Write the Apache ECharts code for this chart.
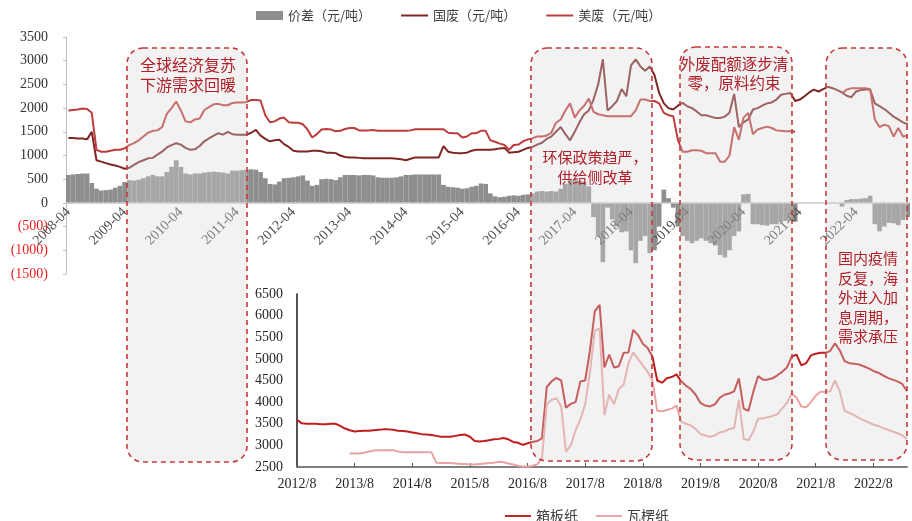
<!DOCTYPE html>
<html>
<head>
<meta charset="utf-8">
<script src="https://cdn.jsdelivr.net/npm/echarts@6/dist/echarts.min.js"></script>
<style>
  html, body { margin: 0; padding: 0; background: #fff; }
  #chart { width: 912px; height: 521px; }
</style>
</head>
<body>
<div id="chart"></div>
<script>
// ---- Upper panel: monthly, 2008-04 .. 2023-03 ----
const wasteStart = [2008, 4];
const wasteMonths = 180;

// 价差（元/吨）
const spread = [
  590, 600, 610, 620, 620, 420, 300, 260, 270, 280, 320, 360,
  440, 480, 470, 490, 520, 560, 590, 560, 560, 650, 760, 900,
  760, 620, 600, 620, 620, 640, 650, 660, 650, 640, 620, 680,
  680, 690, 700, 710, 700, 650, 520, 400, 390, 450, 520, 530,
  540, 560, 580, 470, 360, 380, 500, 510, 500, 480, 540, 590,
  590, 590, 580, 590, 590, 580, 540, 530, 530, 530, 540, 560,
  590, 590, 600, 600, 600, 600, 600, 600, 380, 340, 330, 320,
  300, 310, 340, 360, 410, 400, 200, 140, 120, 130, 150, 160,
  150, 170, 180, 200, 240, 250, 240, 250, 240, 300, 400, 480,
  480, 470, 450, 350, -300, -700, -1250, -100, -350, -500, -620, -600,
  -1000, -1270, -800, -700, -1060, -1000, -500, 280, 100, -100, -500, -700,
  -800, -850, -800, -750, -800, -850, -900, -1100, -1150, -1000, -700, -600,
  180, 190, -450, -450, -470, -480, -450, -450, -400, -380, -380, -400,
  null, null, null, null, null, null, null, null, null, -80, 60, 80,
  80, 90, 100, 150, -450, -600, -500, -420, -430, -470, -360, -300
];

// 国废（元/吨）
const domesticWaste = [
  1370, 1370, 1360, 1360, 1340, 1500, 900, 870, 840, 810, 790, 760,
  720, 740, 800, 860, 900, 940, 950, 1020, 1080, 1170, 1220, 1260,
  1230, 1160, 1120, 1130, 1200, 1300, 1360, 1420, 1470, 1440, 1500, 1450,
  1440, 1440, 1440, 1480, 1540, 1420, 1350, 1300, 1320, 1330, 1240, 1180,
  1100, 1083, 1083, 1083, 1100, 1100, 1090, 1060, 1060, 1050, 1000, 970,
  960, 960, 950, 940, 940, 940, 940, 940, 940, 940, 930, 920,
  900, 930, 960, 960, 960, 960, 960, 960, 1200, 1080, 1060, 1050,
  1050, 1060, 1100, 1120, 1120, 1120, 1120, 1130, 1150, 1160, 1060, 1070,
  1080, 1120, 1160, 1180, 1230, 1270, 1350, 1400, 1500, 1600, 1450, 1320,
  1500, 1700, 1870, 1950, 2180, 2500, 3030, 1950, 2040, 2150, 2400, 2250,
  2900, 3030, 2880, 2790, 2880, 2700, 2320, 2100, 2000, 1970, 2050, 2110,
  2040, 2000, 1930, 1850, 1850, 1820, 1790, 1790, 1820, 1900, 2300, 1600,
  1700, 1760, 1970, 2000, 2050, 2100, 2120, 2180, 2280, 2300, 2320, 2150,
  2180, 2250, 2330, 2390, 2350, 2400, 2450, 2420, 2380, 2330, 2260, 2230,
  2350, 2380, 2390, 2390, 2100, 2040, 1980, 1900, 1820, 1760, 1700, 1660
];

// 美废（元/吨）
const usWaste = [
  1950, 1960, 1970, 1990, 1980, 1900, 1120, 1080, 1080, 1100, 1120, 1120,
  1150, 1220, 1260, 1320, 1400, 1480, 1520, 1530, 1600, 1880, 2000, 2140,
  1950, 1720, 1700, 1760, 1780, 1960, 2020, 2080, 2090, 2060, 2060, 2110,
  2120, 2120, 2130, 2170, 2170, 2160, 1850, 1700, 1720, 1780, 1800, 1700,
  1690, 1690, 1660, 1550, 1380, 1450, 1550, 1560, 1550, 1510, 1520, 1560,
  1580, 1580, 1530, 1530, 1530, 1540, 1520, 1520, 1520, 1520, 1520, 1520,
  1520, 1530, 1555, 1555, 1555, 1555, 1555, 1555, 1555, 1480, 1470, 1470,
  1380, 1400, 1470, 1470, 1520, 1520, 1320, 1290, 1250, 1220, 1120, 1220,
  1230, 1300, 1340, 1360, 1400, 1400, 1420, 1480, 1690, 1760, 1950, 2100,
  1800, 1950, 2050, 2200, 1920, 1870, 1850, 1830, 1830, 1830, 1830, 1830,
  1830, 1950, 2180, 2180, 2150, 2150, 2100, 1900, 1850, 1830, 1330, 1080,
  1080, 1110, 1110, 1100, 1050, 1050, 1050, 870, 870, 1000, 1600, 1330,
  1800, 1900, 1450, 1550, 1580, 1610, 1580, 1530, 1520, 1510, 1510, 1500,
  null, null, null, null, null, null, null, null, null, 2300, 2390, 2420,
  2420, 2420, 2420, 2400, 1760, 1600, 1650, 1620, 1400, 1580, 1400, 1420
];

// ---- Lower panel: monthly, 2012-08 .. 2023-03 ----
const paperStart = [2012, 8];
const paperMonths = 128;

// 箱板纸
const boxboard = [
  3590, 3510, 3500, 3500, 3500, 3490, 3490, 3500, 3500, 3450, 3390, 3350,
  3320, 3330, 3340, 3340, 3350, 3360, 3370, 3370, 3360, 3340, 3330, 3320,
  3300, 3280, 3260, 3250, 3240, 3220, 3200, 3200, 3200, 3220, 3240, 3250,
  3200, 3100, 3090, 3100, 3120, 3140, 3150, 3170, 3140, 3080, 3060, 3010,
  3050, 3080, 3100, 3160, 4350, 4480, 4560, 4500, 3870, 3960, 4000, 4480,
  4500, 5200, 6100, 6250, 4800, 5100, 4800, 4830, 5140, 5150, 5670, 5550,
  5350, 5250, 5050, 4500, 4450, 4550, 4580, 4640, 4480, 4380, 4300, 4170,
  3980, 3920, 3900, 3950, 4100, 4170, 4200, 4250, 4550, 3850, 3800, 4240,
  4600, 4520, 4520, 4550, 4620, 4700, 4800, 5050, 5100, 4850, 4900, 5080,
  5120, 5140, 5140, 5180, 5360, 5200, 4950, 4900, 4890, 4870, 4830, 4780,
  4720, 4680, 4620, 4560, 4520, 4480, 4420, 4250
];

// 瓦楞纸
const corrugated = [
  null, null, null, null, null, null, null, null, null, null, null, 2820,
  2810, 2810, 2830, 2860, 2880, 2890, 2890, 2890, 2890, 2860, 2840, 2840,
  2840, 2840, 2840, 2840, 2840, 2600, 2590, 2590, 2590, 2580, 2570, 2570,
  2560, 2560, 2570, 2580, 2590, 2600, 2620, 2610, 2580, 2560, 2530, 2510,
  2510, 2530, 2560, 2700, 3950, 4050, 4090, 3900, 2850, 3000, 3350, 3600,
  3950, 4700, 5650, 5700, 3700, 4170, 3950, 4300, 4400, 4900, 5150, 5000,
  4850, 4700, 4500, 3800, 3790, 3820, 3850, 3920, 3550, 3500, 3460, 3380,
  3260, 3230, 3200, 3230, 3300, 3320, 3380, 3400, 4050, 3150, 3120, 3320,
  3620, 3620, 3650, 3680, 3720, 3850, 3980, 4200, 4100, 3900, 3880, 4000,
  4150, 4240, 4240, 4250, 4500, 4250, 3800, 3750, 3700, 3630, 3580, 3530,
  3480, 3450, 3400, 3360, 3320, 3280, 3230, 3150
];

// Shaded periods and their notes
const periodNotes = [
  '全球经济复苏\n下游需求回暖',
  '环保政策趋严，\n供给侧改革',
  '外废配额逐步清\n零，原料约束',
  '国内疫情\n反复，海\n外进入加\n息周期，\n需求承压'
];

function monthLabels(start, n, fmt) {
  const out = [];
  let y = start[0], m = start[1];
  for (let i = 0; i < n; i++) {
    out.push(fmt(y, m));
    m++; if (m > 12) { m = 1; y++; }
  }
  return out;
}
const wasteCats = monthLabels(wasteStart, wasteMonths, (y, m) => y + '-' + String(m).padStart(2, '0'));
const paperCats = monthLabels(paperStart, paperMonths, (y, m) => y + '/' + m);

const SERIF = '"Liberation Serif", "Times New Roman", serif';
const CJK = '"Noto Sans CJK SC", sans-serif';
const noteColor = '#B0202A';
const boxStroke = '#C23B3B';
const shade = 'rgba(217,217,217,0.34)';
const lineIcon = 'path://M0,0H30V2.2H0Z';

// upper grid geometry; the category axis is lifted onto the zero line
const TOP_Y = 37, TOP_H = 237, Y_MIN = -1500, Y_MAX = 3500;
const zeroLift = -TOP_H * (0 - Y_MIN) / (Y_MAX - Y_MIN);

const chart = echarts.init(document.getElementById('chart'), null, { renderer: 'canvas' });

function box(x, y, w, h) {
  return {
    type: 'rect', z: 50, silent: true,
    shape: { x: x, y: y, width: w, height: h, r: 16 },
    style: { fill: shade, stroke: boxStroke, lineWidth: 1.6, lineDash: [5, 4] }
  };
}
function note(text, cx, top, size, lh) {
  return {
    type: 'text', z: 60, silent: true,
    x: cx, y: top,
    style: {
      text: text, fill: noteColor, textAlign: 'center', textVerticalAlign: 'top',
      font: size + 'px ' + CJK, lineHeight: lh
    }
  };
}

chart.setOption({
  animation: false,
  backgroundColor: '#fff',
  legend: [
    {
      left: 251, top: 4, itemWidth: 27, itemHeight: 9, itemGap: 30,
      textStyle: { fontFamily: CJK, fontSize: 13, color: '#404040' },
      data: [
        { name: '价差（元/吨）', icon: 'rect' },
        { name: '国废（元/吨）', icon: lineIcon },
        { name: '美废（元/吨）', icon: lineIcon }
      ]
    },
    {
      left: 500, top: 504, itemWidth: 26, itemHeight: 9, itemGap: 18,
      textStyle: { fontFamily: CJK, fontSize: 14, color: '#404040' },
      data: [
        { name: '箱板纸', icon: lineIcon },
        { name: '瓦楞纸', icon: lineIcon }
      ]
    }
  ],
  grid: [
    { left: 66, right: 2, top: TOP_Y, height: TOP_H },
    { left: 297, right: 5, top: 294, height: 173 }
  ],
  xAxis: [
    {
      gridIndex: 0, type: 'category', data: wasteCats, boundaryGap: true,
      position: 'bottom', offset: zeroLift, z: 5,
      axisLine: { onZero: false, lineStyle: { color: '#C8C8C8', width: 1.5 } },
      axisTick: { show: false },
      axisLabel: {
        interval: 11, rotate: 45, margin: 7,
        color: '#4D4D4D', fontFamily: SERIF, fontSize: 14
      },
      splitLine: { show: false }
    },
    {
      gridIndex: 1, type: 'category', data: paperCats, boundaryGap: false,
      axisLine: { lineStyle: { color: '#7F7F7F', width: 2 } },
      axisTick: { show: true, interval: 11, inside: true, length: 4, lineStyle: { color: '#555' } },
      axisLabel: {
        interval: 11, margin: 10,
        color: '#262626', fontFamily: SERIF, fontSize: 14
      },
      splitLine: { show: false }
    }
  ],
  yAxis: [
    {
      gridIndex: 0, type: 'value', min: Y_MIN, max: Y_MAX, interval: 500,
      axisLine: { show: true, lineStyle: { color: '#BFBFBF', width: 1 } },
      axisTick: { show: true, length: 3, lineStyle: { color: '#BFBFBF' } },
      splitLine: { show: false },
      axisLabel: {
        margin: 18, fontFamily: SERIF, fontSize: 14,
        formatter: v => (v < 0 ? '(' + (-v) + ')' : String(v)),
        color: v => (Number(v) < 0 ? '#EE1C1C' : '#333333')
      }
    },
    {
      gridIndex: 1, type: 'value', min: 2500, max: 6500, interval: 500,
      axisLine: { show: true, lineStyle: { color: '#1A1A1A', width: 1.5 } },
      axisTick: { show: false },
      splitLine: { show: false },
      axisLabel: {
        margin: 14, fontFamily: SERIF, fontSize: 14, color: '#262626',
        formatter: v => String(v)
      }
    }
  ],
  series: [
    {
      name: '价差（元/吨）', type: 'bar', xAxisIndex: 0, yAxisIndex: 0,
      data: spread, barCategoryGap: '0%',
      itemStyle: { color: '#8E8E8E' }
    },
    {
      name: '国废（元/吨）', type: 'line', xAxisIndex: 0, yAxisIndex: 0,
      data: domesticWaste, symbol: 'none',
      lineStyle: { color: '#7E2626', width: 2 }, itemStyle: { color: '#7E2626' }
    },
    {
      name: '美废（元/吨）', type: 'line', xAxisIndex: 0, yAxisIndex: 0,
      data: usWaste, symbol: 'none', connectNulls: false,
      lineStyle: { color: '#BE3B3B', width: 2 }, itemStyle: { color: '#BE3B3B' }
    },
    {
      name: '箱板纸', type: 'line', xAxisIndex: 1, yAxisIndex: 1,
      data: boxboard, symbol: 'none',
      lineStyle: { color: '#BE1E1E', width: 2 }, itemStyle: { color: '#BE1E1E' }
    },
    {
      name: '瓦楞纸', type: 'line', xAxisIndex: 1, yAxisIndex: 1,
      data: corrugated, symbol: 'none',
      lineStyle: { color: '#E9A3A3', width: 2 }, itemStyle: { color: '#E9A3A3' }
    }
  ],
  graphic: [
    box(127, 48, 120, 414),
    box(531, 48, 121, 413),
    box(680, 47, 112, 413),
    box(826, 48, 81, 412),
    note(periodNotes[0], 188, 55, 16, 20),
    note(periodNotes[1], 595, 147, 15, 20),
    note(periodNotes[2], 734, 55, 15.5, 19),
    note(periodNotes[3], 868, 249, 15, 19.5)
  ]
});
</script>
</body>
</html>
